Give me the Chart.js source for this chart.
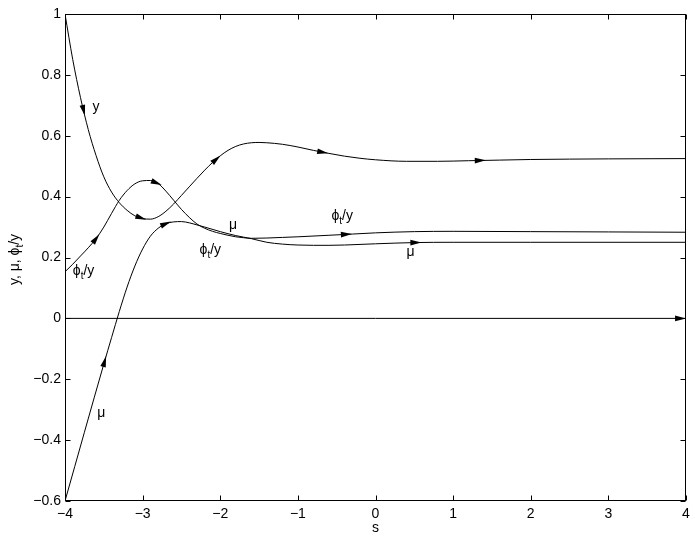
<!DOCTYPE html>
<html><head><meta charset="utf-8">
<script src="https://cdn.jsdelivr.net/npm/chart.js@4/dist/chart.umd.min.js"></script>
<style>html,body{margin:0;padding:0;background:#fff}</style>
</head><body>
<canvas id="c" width="695" height="542"></canvas>
<script>
// ---- data ----
const xTicks = [-4, -3, -2, -1, 0, 1, 2, 3, 4];
const yTicks = [-0.6, -0.4, -0.2, 0, 0.2, 0.4, 0.6, 0.8, 1];

const yS = [-4,-3.9,-3.8,-3.7,-3.6,-3.5,-3.4,-3.3,-3.2,-3.1,-3.0,-2.9,-2.8,-2.7,-2.6,-2.5,-2.4,-2.3,-2.2,-2.1,-2.0,-1.9,-1.8,-1.7,-1.6,-1.5,-1.4,-1.2,-1.0,-0.8,-0.6,-0.4,-0.2,0,0.4,0.8,1.2,1.6,2,3,4];
const yV = [1.0,0.85,0.725,0.62,0.535,0.465,0.415,0.38,0.355,0.337,0.328,0.326,0.334,0.352,0.376,0.404,0.432,0.46,0.487,0.512,0.534,0.552,0.565,0.573,0.577,0.578,0.577,0.572,0.563,0.552,0.542,0.533,0.526,0.521,0.516,0.516,0.518,0.52,0.522,0.524,0.525];

const phiS = [-4,-3.9,-3.8,-3.7,-3.6,-3.5,-3.4,-3.3,-3.2,-3.1,-3.0,-2.9,-2.8,-2.7,-2.6,-2.5,-2.4,-2.3,-2.2,-2.1,-2.0,-1.9,-1.8,-1.7,-1.6,-1.4,-1.2,-1.0,-0.6,-0.3,0,0.5,1,2,3,4];
const phiV = [0.153,0.178,0.205,0.232,0.262,0.300,0.345,0.388,0.42,0.442,0.452,0.453,0.443,0.418,0.388,0.358,0.332,0.31,0.296,0.286,0.279,0.273,0.268,0.265,0.263,0.264,0.266,0.268,0.273,0.277,0.281,0.285,0.286,0.285,0.284,0.283];

const muS = [-4,-3.5,-3.4,-3.3,-3.2,-3.1,-3.0,-2.9,-2.8,-2.7,-2.6,-2.5,-2.4,-2.3,-2.2,-2.0,-1.8,-1.6,-1.4,-1.2,-1.0,-0.8,-0.6,-0.4,0,0.5,1,2,4];
const muV = [-0.6,-0.15,-0.063,0.023,0.103,0.172,0.228,0.27,0.296,0.311,0.317,0.318,0.314,0.307,0.3,0.285,0.272,0.262,0.25,0.244,0.241,0.24,0.24,0.241,0.245,0.249,0.25,0.25,0.25];

const zeroS = [-4, 4];
const zeroV = [0, 0];

// arrow positions (s values) along each trajectory
const yArrowS = [-3.76, -3.02, -2.05, -0.68, 1.35];
const phiArrowS = [-3.6, -2.82, -0.375];
const muArrowS = [-3.49, -2.70, 0.52];
const zeroArrowS = [3.93];

// curve labels: text, s, value (baseline-left anchor)
const curveLabels = [
  {t: 'y',   s: -3.645, v: 0.680},
  {t: 'mu',  s: -3.585, v: -0.3245},
  {t: 'mu',  s: -1.888, v: 0.2936},
  {t: 'mu',  s: 0.399,  v: 0.2048},
  {t: 'phi', s: -3.899, v: 0.142},
  {t: 'phi', s: -2.266, v: 0.213},
  {t: 'phi', s: -0.568, v: 0.323}
];

const FONT = '"Liberation Sans", Arial, Helvetica, sans-serif';
const PHI = '\u03d5';

function pts(s, v) { return s.map((x, i) => ({x: x, y: v[i]})); }
function ds(s, v) {
  return {data: pts(s, v), showLine: true, borderColor: '#000', borderWidth: 1,
          pointRadius: 0, pointHoverRadius: 0, fill: false, cubicInterpolationMode: 'monotone'};
}

function interp(s, v, x) {
  for (let i = 0; i < s.length - 1; i++) {
    if (x >= s[i] && x <= s[i + 1]) {
      const t = (x - s[i]) / (s[i + 1] - s[i]);
      return v[i] + t * (v[i + 1] - v[i]);
    }
  }
  return v[v.length - 1];
}

function drawPhiLabel(ctx, x, y) {
  ctx.textAlign = 'left'; ctx.textBaseline = 'alphabetic';
  ctx.font = '14px ' + FONT;
  ctx.fillText(PHI, x, y);
  let w = ctx.measureText(PHI).width;
  ctx.font = '10px ' + FONT;
  ctx.fillText('t', x + w, y + 4);
  w += ctx.measureText('t').width;
  ctx.font = '14px ' + FONT;
  ctx.fillText('/y', x + w, y);
}

const overlay = {
  id: 'overlay',
  afterDatasetsDraw(chart) {
    const ctx = chart.ctx, xs = chart.scales.x, ys = chart.scales.y, ca = chart.chartArea;
    ctx.save();
    ctx.fillStyle = '#000'; ctx.strokeStyle = '#000';

    // arrows
    const groups = [[yS, yV, yArrowS], [phiS, phiV, phiArrowS], [muS, muV, muArrowS], [zeroS, zeroV, zeroArrowS]];
    groups.forEach(([s, v, arr]) => {
      arr.forEach(a => {
        const d = 0.02;
        const x0 = xs.getPixelForValue(a - d), y0 = ys.getPixelForValue(interp(s, v, a - d));
        const x1 = xs.getPixelForValue(a + d), y1 = ys.getPixelForValue(interp(s, v, a + d));
        const cx = xs.getPixelForValue(a), cy = ys.getPixelForValue(interp(s, v, a));
        let dx = x1 - x0, dy = y1 - y0; const L = Math.hypot(dx, dy); dx /= L; dy /= L;
        const len = 11, hw = 2.8;
        const tx = cx + dx * len / 2, ty = cy + dy * len / 2;
        const bx = cx - dx * len / 2, by = cy - dy * len / 2;
        ctx.beginPath();
        ctx.moveTo(tx, ty);
        ctx.lineTo(bx - dy * hw, by + dx * hw);
        ctx.lineTo(bx + dy * hw, by - dx * hw);
        ctx.closePath();
        ctx.fill();
      });
    });

    // curve labels
    curveLabels.forEach(l => {
      const px = xs.getPixelForValue(l.s), py = ys.getPixelForValue(l.v);
      if (l.t === 'phi') { drawPhiLabel(ctx, px, py); }
      else {
        ctx.font = '14px ' + FONT; ctx.textAlign = 'left'; ctx.textBaseline = 'alphabetic';
        ctx.fillText(l.t === 'mu' ? '\u03bc' : l.t, px, py);
      }
    });

    // box
    ctx.lineWidth = 1;
    const L = Math.round(ca.left) + 0.5, R = Math.round(ca.right) - 0.5;
    const T = Math.round(ca.top) + 0.5, B = Math.round(ca.bottom) - 0.5;
    ctx.strokeRect(L, T, R - L, B - T);

    // inward ticks
    const tl = 5;
    ctx.beginPath();
    xTicks.forEach(t => {
      const px = Math.round(xs.getPixelForValue(t)) + 0.5;
      ctx.moveTo(px, B); ctx.lineTo(px, B - tl);
      ctx.moveTo(px, T); ctx.lineTo(px, T + tl);
    });
    yTicks.forEach(t => {
      const py = Math.round(ys.getPixelForValue(t)) + 0.5;
      ctx.moveTo(L, py); ctx.lineTo(L + tl, py);
      ctx.moveTo(R, py); ctx.lineTo(R - tl, py);
    });
    ctx.stroke();

    // x title
    ctx.font = '14px ' + FONT; ctx.textAlign = 'center'; ctx.textBaseline = 'alphabetic';
    ctx.fillText('s', (ca.left + ca.right) / 2, 532);

    // y title (rotated)
    ctx.save();
    ctx.translate(19, (ca.top + ca.bottom) / 2 + 2);
    ctx.rotate(-Math.PI / 2);
    ctx.font = '14px ' + FONT;
    const p1 = 'y, \u03bc, ' + PHI;
    const w1 = ctx.measureText(p1).width;
    ctx.font = '10px ' + FONT; const w2 = ctx.measureText('t').width;
    ctx.font = '14px ' + FONT; const w3 = ctx.measureText('/y').width;
    let x = -(w1 + w2 + w3) / 2;
    ctx.textAlign = 'left';
    ctx.fillText(p1, x, 0); x += w1;
    ctx.font = '10px ' + FONT; ctx.fillText('t', x, 4); x += w2;
    ctx.font = '14px ' + FONT; ctx.fillText('/y', x, 0);
    ctx.restore();

    ctx.restore();
  }
};

function fmt(v) { return String(Number(v.toFixed(1))).replace('-', '\u2212'); }

new Chart(document.getElementById('c'), {
  type: 'scatter',
  data: {datasets: [ds(yS, yV), ds(phiS, phiV), ds(muS, muV), ds(zeroS, zeroV)]},
  options: {
    responsive: false, animation: false, devicePixelRatio: 1,
    layout: {padding: {left: 0, right: 9, top: 14, bottom: 0}},
    plugins: {legend: {display: false}, tooltip: {enabled: false}},
    scales: {
      x: {type: 'linear', min: -4, max: 4,
          afterBuildTicks: s => { s.ticks = xTicks.map(v => ({value: v})); },
          ticks: {callback: fmt, color: '#000', font: {family: FONT, size: 14}, padding: 5, maxRotation: 0, autoSkip: false},
          grid: {display: false, drawTicks: false}, border: {display: false},
          afterFit: s => { s.height = 41; }},
      y: {type: 'linear', min: -0.6, max: 1,
          afterBuildTicks: s => { s.ticks = yTicks.map(v => ({value: v})); },
          ticks: {callback: fmt, color: '#000', font: {family: FONT, size: 14}, padding: 4, autoSkip: false},
          grid: {display: false, drawTicks: false}, border: {display: false},
          afterFit: s => { s.width = 65; }}
    }
  },
  plugins: [overlay]
});
</script>
</body></html>
